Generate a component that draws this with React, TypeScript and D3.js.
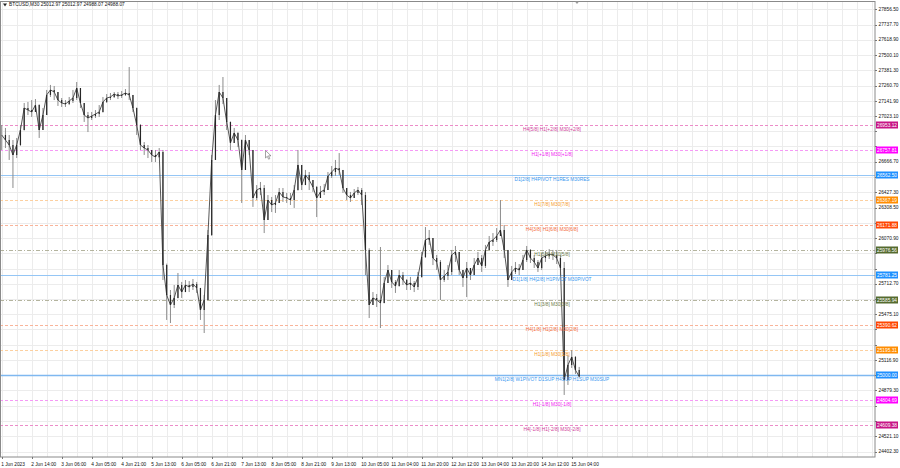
import React, { useEffect, useRef } from 'react';
import * as d3 from 'd3';

// 2-hour bars (1 Jun – 15 Jun 2023)
const closes = [
  26875, 26836, 26797, 26719, 26797, 26914, 27086, 27070, 27055, 27109,
  26914, 27031, 27188, 27227, 27211, 27148, 27125, 27117, 27141, 27164,
  27242, 27125, 27031, 27008, 27023, 27039, 27055, 27133, 27164, 27172,
  27195, 27180, 27188, 27203, 27188, 27086, 26953, 26797, 26773, 26758,
  26719, 26703, 26742, 25859, 25625, 25547, 25602, 25703, 25648, 25703,
  25688, 25711, 25680, 25508, 25586, 26094, 26680, 27031, 27211, 27164,
  26977, 26813, 26891, 26836, 26602, 26836, 26758, 26383, 26445, 26461,
  26211, 26367, 26328, 26344, 26430, 26391, 26383, 26367, 26445, 26641,
  26484, 26563, 26523, 26469, 26383, 26430, 26445, 26555, 26586, 26617,
  26602, 26461, 26406, 26383, 26422, 26445, 26406, 25977, 25547, 25602,
  25586, 25563, 25719, 25820, 25727, 25695, 25781, 25742, 25703, 25719,
  25688, 25766, 25922, 26055, 26070, 25914, 25883, 25742, 25773, 25805,
  25938, 25961, 25820, 25758, 25836, 25781, 25859, 25914, 25852, 25977,
  26039, 26055, 26086, 26133, 25977, 25742, 25805, 25836, 25820, 25898,
  25977, 25914, 25883, 25836, 25914, 25930, 25945, 25938, 25914, 25836,
  24961, 25078, 25141, 25039, 24988,
];
const highs = [
  26953, 26930, 26875, 26836, 26852, 26953, 27125, 27133, 27148, 27156,
  27115, 27086, 27227, 27266, 27258, 27188, 27164, 27148, 27172, 27227,
  27289, 27188, 27125, 27055, 27055, 27070, 27109, 27172, 27195, 27203,
  27211, 27211, 27219, 27234, 27406, 27188, 27090, 26960, 26820, 26797,
  26758, 26758, 26773, 26758, 25870, 25664, 25703, 25797, 25727, 25742,
  25734, 25750, 25727, 25680, 25625, 26133, 26719, 27148, 27266, 27328,
  27164, 26980, 26930, 26898, 26840, 26875, 26836, 26758, 26484, 26508,
  26484, 26406, 26391, 26406, 26461, 26461, 26422, 26422, 26484, 26758,
  26602, 26602, 26586, 26523, 26477, 26477, 26492, 26586, 26633, 26680,
  26734, 26602, 26461, 26430, 26453, 26469, 26461, 26430, 25990, 25648,
  25633, 26000, 25766, 25859, 25773, 25742, 25820, 25805, 25750, 25766,
  25734, 25805, 25961, 26156, 26133, 26070, 25938, 25898, 25820, 25859,
  25977, 26008, 25961, 25820, 25883, 25836, 25914, 25961, 25938, 26016,
  26086, 26109, 26148, 26367, 26172, 25977, 25852, 25883, 25867, 25938,
  26008, 25984, 25938, 25898, 25953, 25969, 25984, 25977, 25977, 25938,
  25883, 25156, 25195, 25148, 25063,
];
const lows = [
  26758, 26773, 26680, 26461, 26695, 26790, 26910, 27031, 27016, 27055,
  26852, 26977, 27031, 27172, 27148, 27102, 27094, 27094, 27109, 27125,
  27148, 27086, 26977, 26898, 26992, 27008, 27016, 27050, 27125, 27148,
  27164, 27156, 27164, 27180, 27148, 27055, 26875, 26758, 26719, 26695,
  26664, 26664, 26695, 25742, 25430, 25406, 25523, 25598, 25602, 25648,
  25648, 25664, 25641, 25430, 25328, 25586, 26086, 26680, 26992, 27117,
  26914, 26758, 26836, 26781, 26344, 26680, 26719, 26313, 26367, 26406,
  26109, 26289, 26273, 26266, 26367, 26352, 26344, 26328, 26305, 26440,
  26445, 26508, 26445, 26430, 26234, 26391, 26406, 26484, 26539, 26555,
  26563, 26422, 26367, 26352, 26383, 26406, 26328, 25781, 25445, 25547,
  25531, 25367, 25560, 25719, 25680, 25641, 25690, 25703, 25664, 25664,
  25648, 25664, 25760, 25914, 26016, 25859, 25820, 25586, 25727, 25742,
  25781, 25883, 25781, 25688, 25609, 25742, 25781, 25875, 25805, 25836,
  25977, 26008, 26039, 26086, 25914, 25688, 25742, 25789, 25781, 25836,
  25883, 25875, 25836, 25805, 25820, 25883, 25906, 25898, 25867, 25781,
  24844, 24922, 25055, 25008, 24980,
];

const timeLabels = [
  '1 Jun 2023', '2 Jun 14:00', '3 Jun 06:00', '4 Jun 05:00', '4 Jun 21:00',
  '5 Jun 13:00', '6 Jun 05:00', '6 Jun 21:00', '7 Jun 13:00', '8 Jun 05:00',
  '8 Jun 21:00', '9 Jun 13:00', '10 Jun 05:00', '11 Jun 04:00', '11 Jun 20:00',
  '12 Jun 12:00', '13 Jun 04:00', '13 Jun 20:00', '14 Jun 12:00', '15 Jun 04:00',
];

const priceTicks = [
  27856.5, 27737.7, 27618.9, 27500.1, 27381.3, 27260.7, 27141.9, 27023.1,
  26904.3, 26785.5, 26666.7, 26547.9, 26427.3, 26308.5, 26189.7, 26070.9,
  25952.1, 25831.5, 25712.7, 25593.9, 25475.1, 25356.3, 25235.7, 25116.9,
  24998.1, 24879.3, 24760.5, 24639.9, 24521.1, 24402.3,
];

// Murrey math levels
const levelPrices = [
  26953.12, 26757.81, 26562.5, 26367.19, 26171.88, 25976.56, 25781.25,
  25585.94, 25390.62, 25195.31, 25000.0, 24804.69, 24609.38,
];
const levelLabels = [
  'H4[5/8] H1[+2/8] M30[+2/8]',
  'H1[+1/8] M30[+1/8]',
  'D1[2/8] H4PIVOT H1RES M30RES',
  'H1[7/8] M30[7/8]',
  'H4[3/8] H1[6/8] M30[6/8]',
  'H1[5/8] M30[5/8]',
  'D1[1/8] H4[2/8] H1PIVOT M30PIVOT',
  'H1[3/8] M30[3/8]',
  'H4[1/8] H1[2/8] M30[2/8]',
  'H1[1/8] M30[1/8]',
  'MN1[2/8] W1PIVOT D1SUP H4SUP H1SUP M30SUP',
  'H1[-1/8] M30[-1/8]',
  'H4[-1/8] H1[-2/8] M30[-2/8]',
];
const levelKinds = [
  'violet', 'magenta', 'pivot', 'orange', 'red', 'olive', 'pivot',
  'olive', 'red', 'orange', 'main', 'magenta', 'violet',
];

const kindStyle: Record<string, { tag: string; line: string; text: string; dash: string | null; width: number }> = {
  violet: { tag: '#c71585', line: '#ec8cc8', text: '#d0409a', dash: '3,2', width: 1 },
  magenta: { tag: '#ff00ff', line: '#f59af5', text: '#f020f0', dash: '3,2', width: 1 },
  pivot: { tag: '#1e90ff', line: '#95c6f5', text: '#3a98f0', dash: null, width: 1 },
  orange: { tag: '#ff8c00', line: '#fcd0a0', text: '#f59a2a', dash: '3,2', width: 1 },
  red: { tag: '#ff4500', line: '#f9b49a', text: '#f36a3a', dash: '3,2', width: 1 },
  olive: { tag: '#556b2f', line: '#b4b49e', text: '#6c7a48', dash: '4,2,1,2', width: 1 },
  main: { tag: '#1e90ff', line: '#7fb8f0', text: '#3a98f0', dash: null, width: 1.6 },
};

const W = 900;
const H = 468;
const plotRight = 875;
const plotBottom = 457;
const FONT = '"Liberation Sans", Arial, sans-serif';

const App: React.FC = () => {
  const svgRef = useRef<SVGSVGElement>(null);

  useEffect(() => {
    if (!svgRef.current) return;
    const svg = d3.select(svgRef.current);
    svg.selectAll('*').remove();

    const x = d3.scaleLinear().domain([0, 8]).range([1.7, 31.7]);
    const y = d3.scaleLinear().domain([25000, 26953.12]).range([375, 125]);

    svg.append('rect').attr('width', W).attr('height', H).attr('fill', '#fff');

    const clip = svg.append('defs').append('clipPath').attr('id', 'plot');
    clip.append('rect').attr('x', 0).attr('y', 1).attr('width', plotRight).attr('height', plotBottom - 1);

    // grid
    const maxIdx = Math.floor(x.invert(plotRight));
    const gridIdx = d3.range(0, maxIdx + 1, 4);
    const grid = svg.append('g').attr('stroke', '#ececec').attr('stroke-width', 1);
    grid.selectAll('line.v')
      .data(gridIdx)
      .join('line')
      .attr('class', 'v')
      .attr('x1', d => Math.round(x(d)) + 0.5)
      .attr('x2', d => Math.round(x(d)) + 0.5)
      .attr('y1', 1)
      .attr('y2', plotBottom);
    grid.selectAll('line.h')
      .data(priceTicks)
      .join('line')
      .attr('class', 'h')
      .attr('x1', 0)
      .attr('x2', plotRight)
      .attr('y1', d => Math.round(y(d)) + 0.5)
      .attr('y2', d => Math.round(y(d)) + 0.5);

    // level lines
    const levels = levelPrices.map((p, i) => ({ p, label: levelLabels[i], s: kindStyle[levelKinds[i]] }));
    svg.append('g')
      .selectAll('line')
      .data(levels)
      .join('line')
      .attr('x1', 0)
      .attr('x2', plotRight)
      .attr('y1', d => Math.round(y(d.p)) + 0.5)
      .attr('y2', d => Math.round(y(d.p)) + 0.5)
      .attr('stroke', d => d.s.line)
      .attr('stroke-width', d => d.s.width)
      .attr('stroke-dasharray', d => d.s.dash);

    // bars
    const bars = closes.map((c, i) => {
      const o = i > 0 ? closes[i - 1] : c;
      return { i, o, c, h: Math.max(highs[i], o, c), l: Math.min(lows[i], o, c) };
    });
    const g = svg.append('g').attr('clip-path', 'url(#plot)');
    g.selectAll('line.wick')
      .data(bars)
      .join('line')
      .attr('class', 'wick')
      .attr('x1', d => x(d.i))
      .attr('x2', d => x(d.i))
      .attr('y1', d => y(d.h))
      .attr('y2', d => y(d.l))
      .attr('stroke', '#8c8c8c')
      .attr('stroke-width', 1);
    g.append('path')
      .datum(bars)
      .attr('fill', 'none')
      .attr('stroke', '#444')
      .attr('stroke-width', 0.9)
      .attr('d', d3.line<any>().x(d => x(d.i)).y(d => y(d.c)));
    g.selectAll('line.body')
      .data(bars)
      .join('line')
      .attr('class', 'body')
      .attr('x1', d => x(d.i))
      .attr('x2', d => x(d.i))
      .attr('y1', d => y(d.o))
      .attr('y2', d => y(d.c))
      .attr('stroke', '#262626')
      .attr('stroke-width', 1.2);

    // level texts
    svg.append('g')
      .selectAll('text')
      .data(levels)
      .join('text')
      .attr('x', 552)
      .attr('y', d => y(d.p) + 5.6)
      .attr('text-anchor', 'middle')
      .attr('font-family', FONT)
      .attr('font-size', 4.8)
      .attr('fill', d => d.s.text)
      .text(d => d.label);

    // frame
    svg.append('rect')
      .attr('x', 0.5).attr('y', 1.5)
      .attr('width', plotRight - 0.5).attr('height', plotBottom - 1.5)
      .attr('fill', 'none').attr('stroke', '#8a8a8a');

    // right axis (labels hidden under a level tag are not drawn, as in the terminal)
    const visibleTicks = priceTicks.filter(t => !levelPrices.some(p => Math.abs(y(p) - y(t)) < 6.5));
    const ra = svg.append('g').attr('font-family', FONT).attr('font-size', 4.8).attr('fill', '#111');
    ra.selectAll('line')
      .data(priceTicks)
      .join('line')
      .attr('x1', plotRight).attr('x2', plotRight + 2)
      .attr('y1', d => Math.round(y(d)) + 0.5).attr('y2', d => Math.round(y(d)) + 0.5)
      .attr('stroke', '#777');
    ra.selectAll('text')
      .data(visibleTicks)
      .join('text')
      .attr('x', 878.5)
      .attr('y', d => y(d) + 1.7)
      .text(d => d.toFixed(2));

    // price tags
    const tags = svg.append('g').attr('font-family', FONT).attr('font-size', 4.8);
    tags.selectAll('rect')
      .data(levels)
      .join('rect')
      .attr('x', 876).attr('y', d => y(d.p) - 3.5)
      .attr('width', 22).attr('height', 7)
      .attr('fill', d => d.s.tag);
    tags.selectAll('text')
      .data(levels)
      .join('text')
      .attr('x', 887).attr('y', d => y(d.p) + 1.7)
      .attr('text-anchor', 'middle')
      .attr('fill', '#fff')
      .text(d => d.p.toFixed(2));

    // time axis
    const ta = svg.append('g').attr('font-family', FONT).attr('font-size', 4.8).attr('fill', '#111');
    ta.selectAll('line')
      .data(timeLabels)
      .join('line')
      .attr('x1', (d, k) => Math.round(x(k * 8)) + 0.5).attr('x2', (d, k) => Math.round(x(k * 8)) + 0.5)
      .attr('y1', plotBottom).attr('y2', plotBottom + 2)
      .attr('stroke', '#777');
    ta.selectAll('text')
      .data(timeLabels)
      .join('text')
      .attr('x', (d, k) => x(k * 8) - 0.5)
      .attr('y', 465.5)
      .text(d => d);

    // header
    svg.append('path').attr('d', 'M3,3.5 L7,3.5 L5,6.5 Z').attr('fill', '#222');
    svg.append('text')
      .attr('x', 9).attr('y', 6.3)
      .attr('font-family', FONT).attr('font-size', 4.8).attr('fill', '#111')
      .text('BTCUSD,M30  25012.97 25012.97 24988.07 24988.07');

    // chart shift marker
    svg.append('path').attr('d', 'M575,1.5 L579,1.5 L577,4 Z').attr('fill', '#999');

    // mouse cursor
    svg.append('path')
      .attr('d', 'M265.5,150.5 L265.5,158 L267.3,156.3 L268.6,159.2 L269.8,158.6 L268.5,155.8 L271,155.8 Z')
      .attr('fill', '#fff').attr('stroke', '#666').attr('stroke-width', 0.6);
  }, []);

  return (
    <svg
      ref={svgRef}
      width={W}
      height={H}
      style={{ position: 'absolute', left: 0, top: 0, display: 'block' }}
    />
  );
};

export default App;
